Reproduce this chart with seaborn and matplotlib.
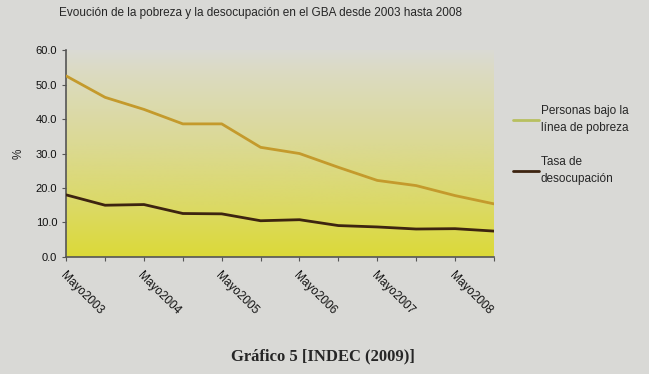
import numpy as np
import pandas as pd
import matplotlib
matplotlib.use("Agg")
import matplotlib.pyplot as plt
from matplotlib.colors import LinearSegmentedColormap
import seaborn as sns

periods = ["Mayo2003", "Oct2003", "Mayo2004", "Oct2004", "Mayo2005", "Oct2005",
           "Mayo2006", "Oct2006", "Mayo2007", "Oct2007", "Mayo2008", "Oct2008"]
pobreza = [52.5, 46.3, 42.8, 38.6, 38.6, 31.8, 30.0, 26.0, 22.2, 20.7, 17.8, 15.4]
desocupacion = [18.0, 15.0, 15.2, 12.6, 12.5, 10.5, 10.8, 9.1, 8.7, 8.1, 8.2, 7.5]
tick_labels = ["Mayo2003", "Mayo2004", "Mayo2005", "Mayo2006", "Mayo2007", "Mayo2008"]
y_ticks = [0, 10, 20, 30, 40, 50, 60]
series_names = ["Personas bajo la\nlínea de pobreza", "Tasa de\ndesocupación"]

sns.set_style("ticks")
plt.rcParams["font.family"] = ["Liberation Sans", "DejaVu Sans"]

bg = "#d9d9d6"
fig = plt.figure(figsize=(6.49, 3.74), dpi=100, facecolor=bg)
ax = fig.add_axes([0.102, 0.313, 0.659, 0.553])
ax.set_facecolor(bg)

df = pd.DataFrame({
    "x": list(range(len(periods))) * 2,
    "valor": pobreza + desocupacion,
    "serie": [series_names[0]] * len(periods) + [series_names[1]] * len(periods),
})

# gradient background
cmap = LinearSegmentedColormap.from_list(
    "bgg", [(0.0, "#dadad4"), (0.12, "#dcdbc0"), (0.45, "#dbd994"), (0.75, "#dbd966"), (1.0, "#dcda38")])
grad = np.linspace(0, 1, 256).reshape(-1, 1)
ax.imshow(grad, cmap=cmap, aspect="auto", extent=[0, 11, 0, 60], origin="upper", zorder=0)

palette = {series_names[0]: "#c49a2c", series_names[1]: "#3d2410"}
sns.lineplot(data=df, x="x", y="valor", hue="serie", palette=palette, linewidth=2.0,
             ax=ax, legend=True, zorder=3)

ax.set_xlim(0, 11)
ax.set_ylim(0, 60)
ax.set_yticks(y_ticks)
ax.set_yticklabels([f"{v:.1f}" for v in y_ticks], fontsize=8)
ax.set_xticks(list(range(0, 12, 2)))
ax.set_xticks(list(range(1, 12, 2)), minor=True)
ax.set_xticklabels(tick_labels, rotation=-45, ha="left", va="top", fontsize=8.5,
                   rotation_mode="anchor")
ax.tick_params(axis="both", length=3, color="#555555", width=0.8, labelcolor="#111111")
ax.tick_params(axis="x", which="major", pad=6)
ax.tick_params(axis="x", which="minor", length=3, color="#555555", width=0.8)
ax.set_xlabel("")
ax.set_ylabel("%", fontsize=8.5, labelpad=8)
for s in ["top", "right"]:
    ax.spines[s].set_visible(False)
for s in ["left", "bottom"]:
    ax.spines[s].set_color("#555555")
    ax.spines[s].set_linewidth(1.2)

leg = ax.legend(loc="upper left", bbox_to_anchor=(1.02, 0.785), frameon=False,
                fontsize=8.5, handlelength=2.2, labelspacing=1.9, handletextpad=0.15)
for t in leg.get_texts():
    t.set_linespacing(1.5)
for line in leg.get_lines():
    line.set_linewidth(2.0)
leg.get_lines()[0].set_color("#b8c060")

fig.text(0.402, 0.965, "Evoución de la pobreza y la desocupación en el GBA desde 2003 hasta 2008",
         ha="center", va="center", fontsize=8.5)
fig.text(0.497, 0.048, "Gráfico 5 [INDEC (2009)]", ha="center", va="center", fontsize=12,
         fontweight="bold", family=["Liberation Serif", "DejaVu Serif"])

fig.savefig("out.png", dpi=100, facecolor=bg)
